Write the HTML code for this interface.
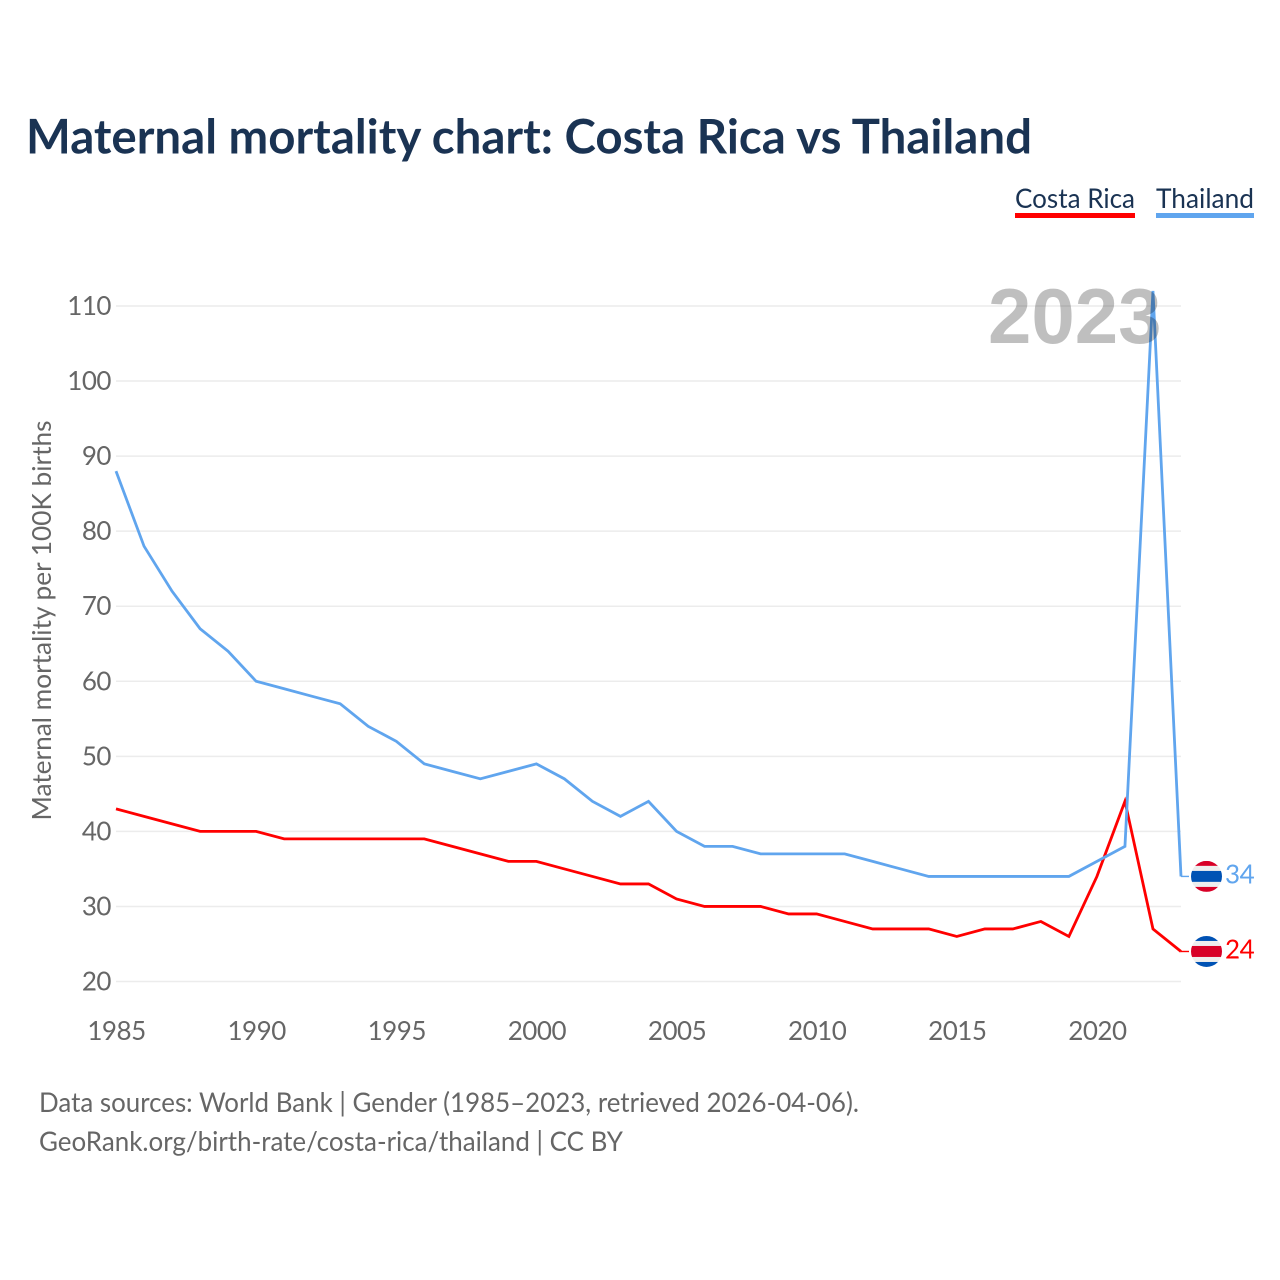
<!DOCTYPE html>
<html lang="en">
<head>
<meta charset="utf-8">
<title>Maternal mortality chart: Costa Rica vs Thailand</title>
<style>
html,body{margin:0;padding:0;background:#fff;width:1280px;height:1280px;overflow:hidden}
svg{display:block}
text{font-family:"Lato","Carlito","Liberation Sans",sans-serif}
</style>
</head>
<body>
<svg id="chart" xmlns="http://www.w3.org/2000/svg" width="1280" height="1280" viewBox="0 0 1280 1280">
  <rect width="1280" height="1280" fill="#fff"/>
  <text x="26" y="153.5" font-size="48" font-weight="700" fill="#1a3353" textLength="1006" lengthAdjust="spacingAndGlyphs">Maternal mortality chart: Costa Rica vs Thailand</text>
  <g>
    <g>
      <text x="1015" y="208" font-size="27" fill="#1a3353" textLength="120" lengthAdjust="spacingAndGlyphs">Costa Rica</text>
      <rect x="1015" y="213" width="120" height="5" fill="#ff0000"/>
    </g>
    <g>
      <text x="1156" y="208" font-size="27" fill="#1a3353" textLength="98" lengthAdjust="spacingAndGlyphs">Thailand</text>
      <rect x="1156" y="213" width="98" height="5" fill="#60a5ee"/>
    </g>
  </g>
  <text transform="translate(51,620.5) rotate(-90)" text-anchor="middle" font-size="26" fill="#666" textLength="400" lengthAdjust="spacingAndGlyphs">Maternal mortality per 100K births</text>
  <g id="grid"></g>
  <g id="yticks"></g>
  <g id="xticks"></g>
  <g id="series"></g>
  <text id="year" x="1161.5" y="343" text-anchor="end" font-size="78" font-weight="700" fill="#000" fill-opacity="0.25" style='font-family:"Liberation Sans",sans-serif'>2023</text>
  <defs>
    <clipPath id="clip-th"><circle id="clip-th-c" r="15.5"/></clipPath>
    <clipPath id="clip-cr"><circle id="clip-cr-c" r="15.5"/></clipPath>
  </defs>
  <g id="ends"></g>
  <text x="39" y="1112" font-size="27" fill="#666" textLength="820" lengthAdjust="spacingAndGlyphs">Data sources: World Bank | Gender (1985–2023, retrieved 2026-04-06).</text>
  <text x="39" y="1151" font-size="27" fill="#666" textLength="584" lengthAdjust="spacingAndGlyphs">GeoRank.org/birth-rate/costa-rica/thailand | CC BY</text>
</svg>
<script>
const startYear = 1985;
const costaRicaValues = [43,42,41,40,40,40,39,39,39,39,39,39,38,37,36,36,35,34,33,33,31,30,30,30,29,29,28,27,27,27,26,27,27,28,26,34,44,27,24];
const thailandValues = [88,78,72,67,64,60,59,58,57,54,52,49,48,47,48,49,47,44,42,44,40,38,38,37,37,37,37,36,35,34,34,34,34,34,34,36,38,112,34];
const yTickValues = [20,30,40,50,60,70,80,90,100,110];
const xTickYears = [1985,1990,1995,2000,2005,2010,2015,2020];

const NS = 'http://www.w3.org/2000/svg';
const xScale = function (year) { return 116 + (year - 1985) * (1181 - 116) / 38; };
const yScale = function (v) { return 981.5 - (v - 20) * (981.5 - 306) / 90; };
function make(tag, parent) {
  const el = document.createElementNS(NS, tag);
  parent.appendChild(el);
  return el;
}
function set(el, attrs) {
  for (const k in attrs) el.setAttribute(k, attrs[k]);
  return el;
}

const grid = document.getElementById('grid');
const yticks = document.getElementById('yticks');
yTickValues.forEach(function (v) {
  const line = make('line', grid);
  
  
  set(line, {x1: 116, x2: 1181, y1: yScale(v), y2: yScale(v), stroke: '#ececec', 'stroke-width': 1.5});
  const t = make('text', yticks);
  
  
  set(t, {x: 111, y: yScale(v) + 9, 'text-anchor': 'end', 'font-size': 26, 'letter-spacing': -0.5, fill: '#666'});
  t.textContent = String(v);
});

const xticks = document.getElementById('xticks');
xTickYears.forEach(function (y) {
  const t = make('text', xticks);
  
  
  set(t, {x: xScale(y) + 0.5, y: 1040, 'text-anchor': 'middle', 'font-size': 26, 'letter-spacing': -0.5, fill: '#666'});
  t.textContent = String(y);
});

const seriesGroup = document.getElementById('series');
function drawSeries(values, color, name) {
  const pts = values.map(function (v, i) { return xScale(startYear + i).toFixed(2) + ',' + yScale(v).toFixed(2); });
  const line = make('polyline', seriesGroup);
  
  
  set(line, {points: pts.join(' '), fill: 'none', stroke: color, 'stroke-width': 2.8, 'stroke-linejoin': 'miter'});
}
drawSeries(costaRicaValues, '#ff0000', 'line-costa-rica');
drawSeries(thailandValues, '#60a5ee', 'line-thailand');

const ends = document.getElementById('ends');
const lastYear = startYear + costaRicaValues.length - 1;
function drawEnd(values, color, stripes, clipId, circleId, name) {
  const last = values[values.length - 1];
  const yPos = yScale(last);
  const x0 = xScale(lastYear);
  const cx = x0 + 25.5;
  const g = make('g', ends);
  
  
  const lead = make('line', g);
  
  
  set(lead, {x1: x0, x2: x0 + 8, y1: yPos, y2: yPos, stroke: color, 'stroke-width': 1.4});
  set(document.getElementById(circleId), {cx: cx, cy: yPos});
  const flag = make('g', g);
  
  
  flag.setAttribute('clip-path', 'url(#' + clipId + ')');
  let offset = -15.5;
  stripes.forEach(function (s) {
    const r = make('rect', flag);
    
    
    set(r, {x: cx - 15.5, y: yPos + offset, width: 31, height: s[0], fill: s[1]});
    offset += s[0];
  });
  const label = make('text', g);
  
  
  set(label, {x: x0 + 44, y: yPos + 7, 'font-size': 26, 'letter-spacing': -0.5, fill: color});
  label.textContent = String(last);
}
drawEnd(thailandValues, '#60a5ee', [[5,'#d80027'],[5,'#eeeeee'],[11,'#0052b4'],[5,'#eeeeee'],[5,'#d80027']], 'clip-th', 'clip-th-c', 'end-thailand');
drawEnd(costaRicaValues, '#ff0000', [[5,'#0052b4'],[5,'#eeeeee'],[11,'#d80027'],[5,'#eeeeee'],[5,'#0052b4']], 'clip-cr', 'clip-cr-c', 'end-costa-rica');
</script>
</body>
</html>
